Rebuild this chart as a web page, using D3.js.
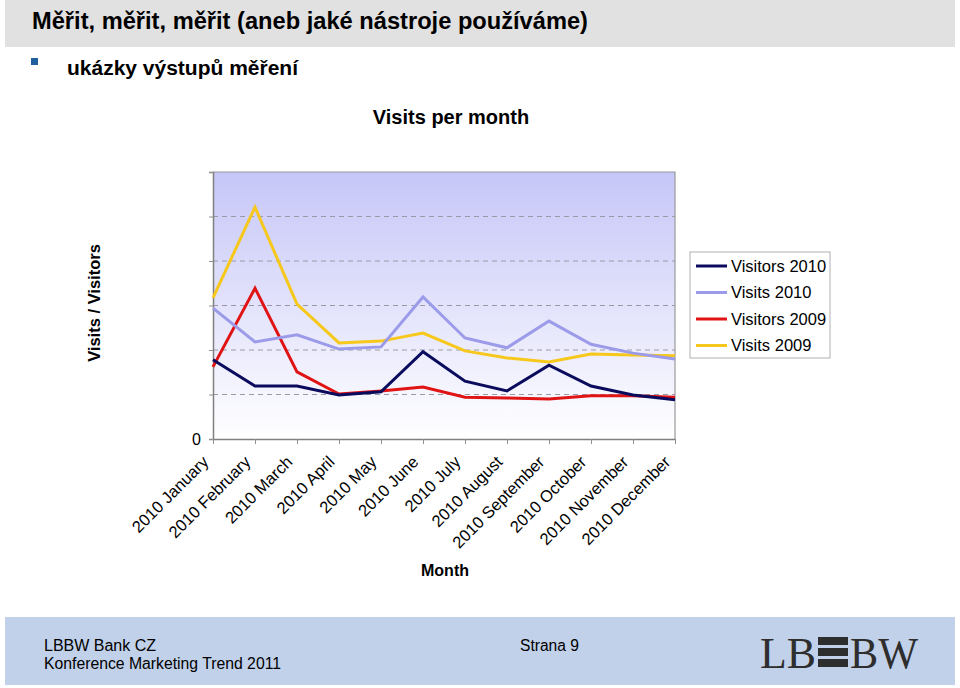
<!DOCTYPE html>
<html><head><meta charset="utf-8">
<script src="https://cdn.jsdelivr.net/npm/d3@7"></script>
<style>body{margin:0;background:#fff}svg{display:block;font-family:"Liberation Sans",Arial,sans-serif}</style>
</head><body>
<script>
const months = ["2010 January","2010 February","2010 March","2010 April","2010 May","2010 June","2010 July","2010 August","2010 September","2010 October","2010 November","2010 December"];
const visitors2010 = [178,119,119,99,106,196,130,108,166,119,99,88];
const visits2010 = [294,218,234,202,207,319,227,205,265,213,193,180];
const visitors2009 = [162,339,151,101,108,117,94,92,90,97,97,94];
const visits2009 = [317,521,303,216,220,238,198,182,173,191,189,187];
const seriesNames = ["Visitors 2010","Visits 2010","Visitors 2009","Visits 2009"];
const seriesColors = ["#0b0b5e","#9b9bea","#e01414","#f7c81c"];
const yTicks = [0,100,200,300,400,500,600];
const yTickLabels = ["0","","","","","",""];

const W=960,H=688;
const svg=d3.select("body").append("svg").attr("width",W).attr("height",H);

// slide header
svg.append("rect").attr("x",5).attr("y",0).attr("width",950).attr("height",47).attr("fill","#e1e1e1");
svg.append("text").attr("x",32).attr("y",29).attr("font-size",23).attr("font-weight","bold")
  .attr("textLength",556).attr("lengthAdjust","spacingAndGlyphs")
  .text("Měřit, měřit, měřit (aneb jaké nástroje používáme)");
svg.append("rect").attr("x",31).attr("y",58).attr("width",7).attr("height",7).attr("fill","#1f5f9e");
svg.append("text").attr("x",67).attr("y",75).attr("font-size",20).attr("font-weight","bold")
  .attr("textLength",231).attr("lengthAdjust","spacingAndGlyphs")
  .text("ukázky výstupů měření");

// chart
const m={l:213,r:675,t:172,b:439};
const x=d3.scalePoint().domain(months).range([m.l,m.r]);
const y=d3.scaleLinear().domain([0,600]).range([m.b,m.t]);

svg.append("text").attr("x",451).attr("y",124).attr("text-anchor","middle").attr("font-size",20).attr("font-weight","bold").text("Visits per month");

const defs=svg.append("defs");
const g=defs.append("linearGradient").attr("id","bg").attr("x1",0).attr("y1",0).attr("x2",0).attr("y2",1);
g.append("stop").attr("offset","0%").attr("stop-color","#c6c6f8");
g.append("stop").attr("offset","100%").attr("stop-color","#ffffff");
svg.append("rect").attr("x",m.l).attr("y",m.t).attr("width",m.r-m.l).attr("height",m.b-m.t).attr("fill","url(#bg)");

// gridlines
svg.append("g").selectAll("line").data(yTicks.filter(d=>d>0&&d<600)).join("line")
  .attr("x1",m.l).attr("x2",m.r).attr("y1",d=>y(d)).attr("y2",d=>y(d))
  .attr("stroke","#9a9aa6").attr("stroke-dasharray","5,4").attr("stroke-width",1);
// border top/right
svg.append("path").attr("d",`M${m.l},${m.t}H${m.r}V${m.b}`).attr("fill","none").attr("stroke","#9a9a9a").attr("stroke-width",1.2);

const yAxis=svg.append("g").attr("transform",`translate(${m.l},0)`)
  .call(d3.axisLeft(y).tickValues(yTicks).tickSize(4).tickPadding(8).tickFormat((d,i)=>yTickLabels[i]));
yAxis.select(".domain").attr("stroke","#808080").attr("stroke-width",1.5);
yAxis.selectAll(".tick line").attr("stroke","#909090");
yAxis.selectAll("text").attr("font-size",16).attr("font-family","Liberation Sans,Arial,sans-serif").attr("fill","#000");

const xAxis=svg.append("g").attr("transform",`translate(0,${m.b})`)
  .call(d3.axisBottom(x).tickSize(5).tickSizeOuter(0));
xAxis.select(".domain").attr("stroke","#808080").attr("stroke-width",1.5);
xAxis.selectAll(".tick line").attr("stroke","#909090");
xAxis.selectAll("text").attr("font-size",16.5).attr("font-family","Liberation Sans,Arial,sans-serif").attr("fill","#000")
  .attr("text-anchor","end").attr("dy",0).attr("y",0)
  .attr("transform","translate(-4,24) rotate(-45)");

// lines
const allSeries=[visitors2010,visits2010,visitors2009,visits2009];
const line=d3.line().x((d,i)=>x(months[i])).y(d=>y(d));
[3,2,1,0].forEach(k=>{
  svg.append("path").attr("d",line(allSeries[k])).attr("fill","none")
    .attr("stroke",seriesColors[k]).attr("stroke-width",3).attr("stroke-linejoin","miter");
});
svg.append("text").attr("transform","translate(100,303) rotate(-90)").attr("text-anchor","middle")
  .attr("font-size",16.5).attr("font-weight","bold").text("Visits / Visitors");
svg.append("text").attr("x",445).attr("y",576).attr("text-anchor","middle").attr("font-size",16).attr("font-weight","bold").text("Month");

// legend
const lg=svg.append("g");
lg.append("rect").attr("x",690).attr("y",252).attr("width",140).attr("height",106).attr("fill","#fff").attr("stroke","#b0b0b0");
seriesNames.forEach((n,i)=>{
  const yy=266+i*26.5;
  lg.append("line").attr("x1",696).attr("x2",727).attr("y1",yy).attr("y2",yy).attr("stroke",seriesColors[i]).attr("stroke-width",3);
  lg.append("text").attr("x",731).attr("y",yy+5.5).attr("font-size",16.5).text(n);
});

// footer
svg.append("rect").attr("x",5).attr("y",617).attr("width",950).attr("height",68).attr("fill","#c1d1ea");
svg.append("text").attr("x",44).attr("y",651).attr("font-size",16).attr("textLength",112).attr("lengthAdjust","spacingAndGlyphs").text("LBBW Bank CZ");
svg.append("text").attr("x",44).attr("y",669).attr("font-size",16).attr("textLength",237).attr("lengthAdjust","spacingAndGlyphs").text("Konference Marketing Trend 2011");
svg.append("text").attr("x",520).attr("y",651).attr("font-size",16).attr("textLength",59).attr("lengthAdjust","spacingAndGlyphs").text("Strana 9");
const logo=svg.append("g").attr("fill","#2e2e2e");
logo.append("text").attr("x",760).attr("y",668).attr("font-family","Liberation Serif,serif").attr("font-size",44)
  .attr("textLength",56).attr("lengthAdjust","spacingAndGlyphs").text("LB");
[637,648,659].forEach(yy=>logo.append("rect").attr("x",818).attr("y",yy).attr("width",30).attr("height",8));
logo.append("text").attr("x",850).attr("y",668).attr("font-family","Liberation Serif,serif").attr("font-size",44)
  .attr("textLength",68).attr("lengthAdjust","spacingAndGlyphs").text("BW");
</script>
</body></html>
